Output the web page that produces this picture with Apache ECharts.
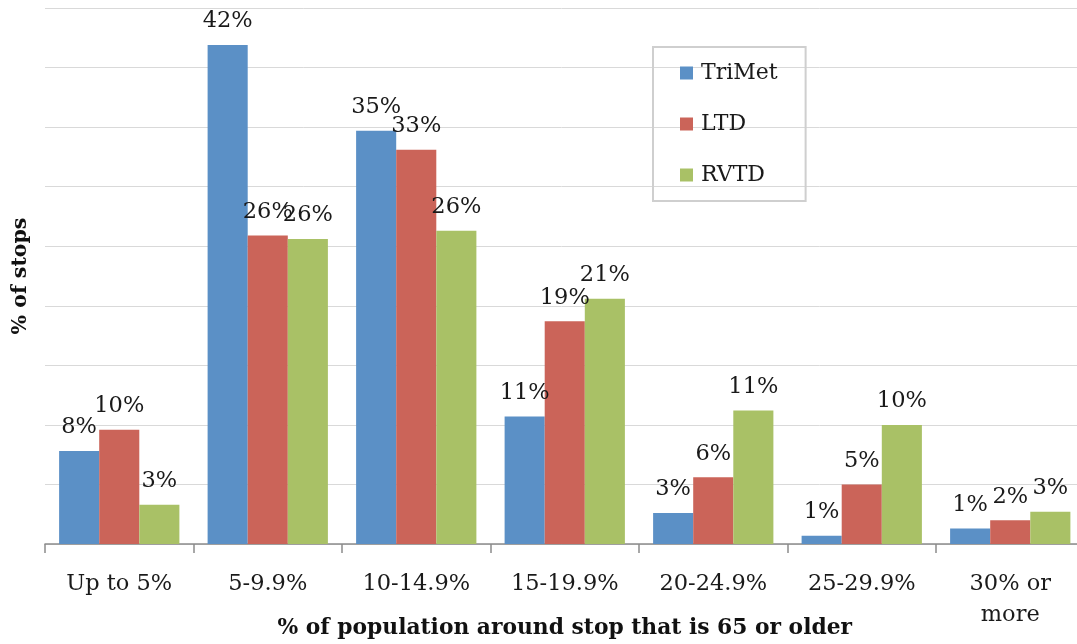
<!DOCTYPE html>
<html>
<head>
<meta charset="utf-8">
<script src="https://cdn.jsdelivr.net/npm/echarts@6/dist/echarts.min.js"></script>
<style>html,body{margin:0;padding:0;background:#fff;}#c{width:1077px;height:644px;}</style>
</head>
<body>
<div id="c"></div>
<script>
const categories = ["Up to 5%", "5-9.9%", "10-14.9%", "15-19.9%", "20-24.9%", "25-29.9%", "30% or\nmore"];
const trimet = [7.8, 41.9, 34.7, 10.7, 2.6, 0.7, 1.3];
const ltd = [9.6, 25.9, 33.1, 18.7, 5.6, 5.0, 2.0];
const rvtd = [3.3, 25.6, 26.3, 20.6, 11.2, 10.0, 2.7];
const seriesNames = ["TriMet", "LTD", "RVTD"];
const colors = ["#5B90C6", "#CB6459", "#A9C166"];

const FONT = "DejaVu Serif";
const chart = echarts.init(document.getElementById('c'));
const labelCfg = {
  show: true, position: 'top', distance: 12,
  fontFamily: FONT, fontSize: 22.5, color: '#1a1a1a',
  formatter: p => Math.round(p.value) + '%'
};
function mk(name, data, color) {
  return {
    name, type: 'bar', data, barGap: '0%', barCategoryGap: '19%',
    itemStyle: { color }, label: labelCfg
  };
}
chart.setOption({
  animation: false,
  color: colors,
  grid: { left: 45, width: 1039.5, top: 8, bottom: 100, containLabel: false, outerBoundsMode: 'none' },
  legend: {
    orient: 'vertical', left: 653, top: 47,
    data: seriesNames,
    icon: 'rect', itemWidth: 13, itemHeight: 13, itemGap: 29,
    borderColor: '#cfcfcf', borderWidth: 2,
    padding: [15, 28, 15, 27],
    textStyle: { fontFamily: FONT, fontSize: 22, color: '#1a1a1a', padding: [0, 0, 0, 3] }
  },
  xAxis: {
    type: 'category', data: categories,
    axisLine: { lineStyle: { color: '#8c8c8c', width: 1.5 } },
    axisTick: { show: true, length: 9, lineStyle: { color: '#8c8c8c', width: 1.5 } },
    axisLabel: { fontFamily: FONT, fontSize: 22.5, color: '#1a1a1a', margin: 25, lineHeight: 31, interval: 0 },
    name: '% of population around stop that is 65 or older',
    nameLocation: 'middle', nameGap: 84, nameMoveOverlap: false,
    nameTextStyle: { fontFamily: FONT, fontSize: 21.8, fontWeight: 'bold', color: '#111', verticalAlign: 'middle' }
  },
  yAxis: {
    type: 'value', min: 0, max: 45, interval: 5,
    axisLabel: { show: false },
    axisLine: { show: false }, axisTick: { show: false },
    splitLine: { lineStyle: { color: '#d9d9d9', width: 1 } },
    name: '% of stops', nameLocation: 'middle', nameGap: 24, nameRotate: 90, nameMoveOverlap: false,
    nameTextStyle: { fontFamily: FONT, fontSize: 20.5, fontWeight: 'bold', color: '#111', verticalAlign: 'middle' }
  },
  series: [
    mk(seriesNames[0], trimet, colors[0]),
    mk(seriesNames[1], ltd, colors[1]),
    mk(seriesNames[2], rvtd, colors[2])
  ]
});
</script>
</body>
</html>
